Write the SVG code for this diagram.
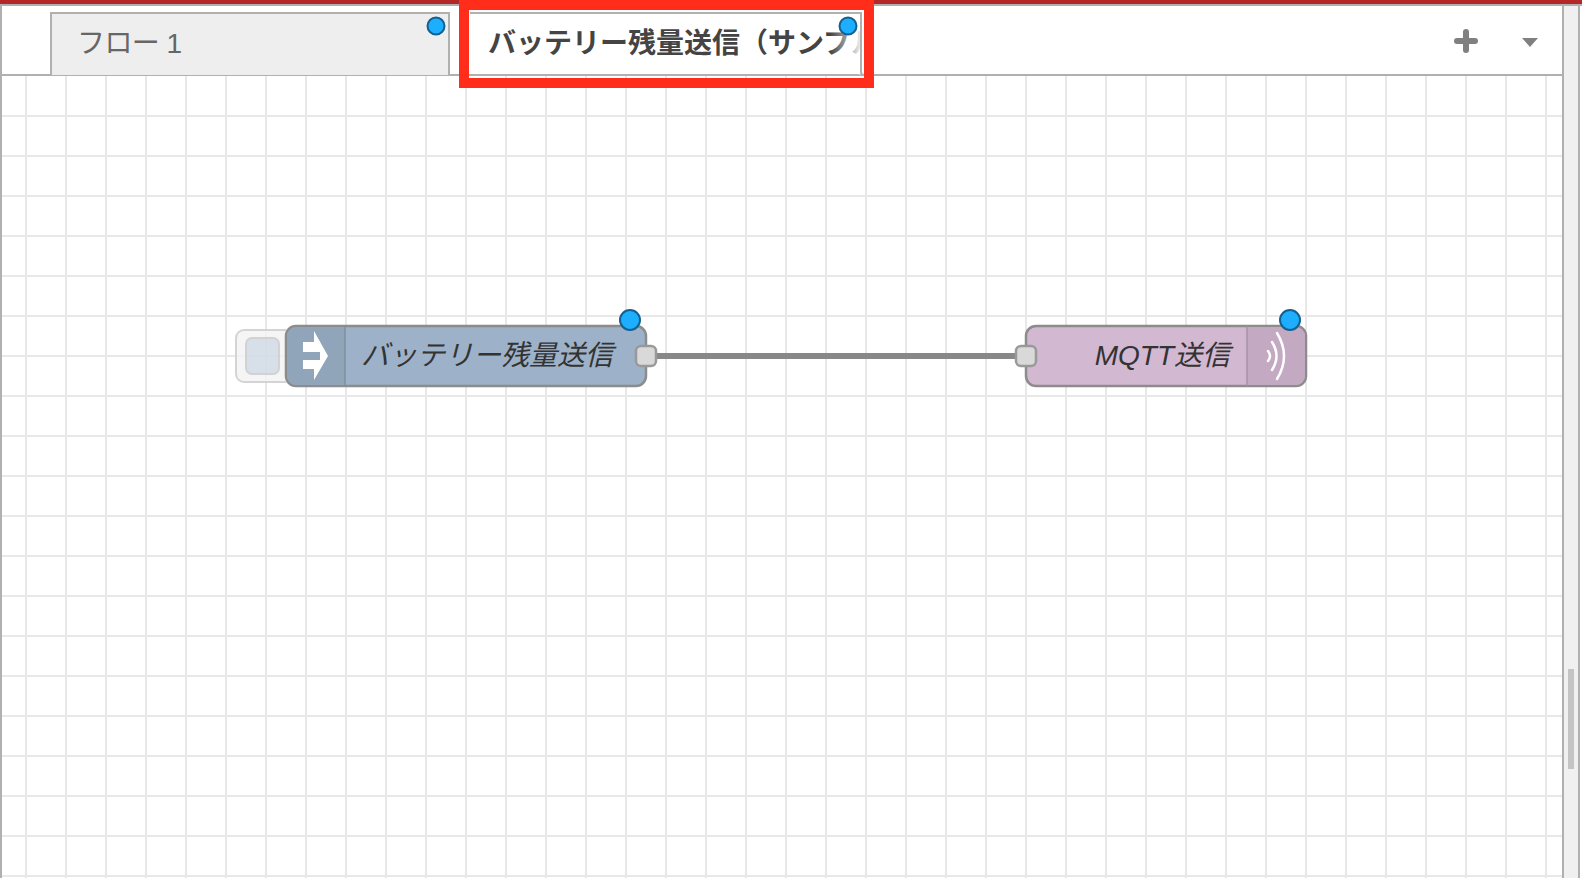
<svg xmlns="http://www.w3.org/2000/svg" width="1582" height="878" viewBox="0 0 1582 878">
<style>
.grid{stroke:#e8e8e8;stroke-width:2;fill:none}
.chrome{fill:#b0b0b0}
.dot{fill:#1eaeff;stroke:#14608f;stroke-width:2}
.port{fill:#d9d9d9;stroke:#999;stroke-width:2.5}
.body{stroke:#8c8c8c;stroke-width:2.5}
.lbl{font-family:"Liberation Sans","Noto Sans CJK JP",sans-serif;font-size:28px;font-style:italic;fill:#333}
.tab{font-family:"Liberation Sans","Noto Sans CJK JP",sans-serif;font-size:28px}
</style>
<defs>
<linearGradient id="fade" x1="830" x2="864" y1="0" y2="0" gradientUnits="userSpaceOnUse">
<stop offset="0" stop-color="#fff" stop-opacity="0"/><stop offset="1" stop-color="#fff"/>
</linearGradient>
<clipPath id="tabclip"><rect x="470" y="14" width="390" height="60"/></clipPath>
<clipPath id="btnclip"><rect x="230" y="325" width="56" height="62"/></clipPath>
</defs>
<rect width="1582" height="878" fill="#fff"/>
<g id="grid" class="grid">
<path d="M26 76V878M66 76V878M106 76V878M146 76V878M186 76V878M226 76V878M266 76V878M306 76V878M346 76V878M386 76V878M426 76V878M466 76V878M506 76V878M546 76V878M586 76V878M626 76V878M666 76V878M706 76V878M746 76V878M786 76V878M826 76V878M866 76V878M906 76V878M946 76V878M986 76V878M1026 76V878M1066 76V878M1106 76V878M1146 76V878M1186 76V878M1226 76V878M1266 76V878M1306 76V878M1346 76V878M1386 76V878M1426 76V878M1466 76V878M1506 76V878M1546 76V878"/>
<path d="M2 116H1562M2 156H1562M2 196H1562M2 236H1562M2 276H1562M2 316H1562M2 356H1562M2 396H1562M2 436H1562M2 476H1562M2 516H1562M2 556H1562M2 596H1562M2 636H1562M2 676H1562M2 716H1562M2 756H1562M2 796H1562M2 836H1562M2 876H1562"/>
</g>
<g id="chrome">
<rect x="0" y="0" width="1582" height="4" fill="#b52626"/>
<rect class="chrome" x="0" y="4" width="1582" height="2"/>
<rect class="chrome" x="0" y="6" width="2" height="872"/>
<rect class="chrome" x="2" y="74" width="1560" height="2"/>
<rect x="1564" y="6" width="14" height="872" fill="#f0f0f0"/>
<rect class="chrome" x="1562" y="6" width="2" height="872"/>
<rect class="chrome" x="1578" y="6" width="2" height="872"/>
<rect x="1568" y="669" width="6" height="100" fill="#c4c4c4"/>
</g>
<g id="tab-1">
<path d="M51 75V13H449V75" fill="#eee" stroke="#b0b0b0" stroke-width="2"/>
<text class="tab" x="77" y="53" fill="#666" textLength="105">フロー 1</text>
<circle class="dot" cx="436" cy="26" r="8.5"/>
</g>
<g id="tab-2">
<path d="M470 13H861V72Q861 75 864 75" fill="#fff" stroke="#b0b0b0" stroke-width="2"/>
<text class="tab" x="488" y="53" fill="#444" font-weight="700" clip-path="url(#tabclip)">バッテリー残量送信（サンプル</text>
<rect x="830" y="14" width="30" height="58" fill="url(#fade)"/>
<circle class="dot" cx="848" cy="26" r="8.5"/>
</g>
<g id="highlight">
<path d="M459 0H874V88H459ZM469 10V78H864V10Z" fill="#ff2d1a" fill-rule="evenodd"/>
</g>
<g id="tab-controls">
<path d="M1466 32V50M1457 41H1475" stroke="#808080" stroke-width="6" stroke-linecap="round" fill="none"/>
<path d="M1522 38H1538L1530 47Z" fill="#808080"/>
</g>
<g id="connectors">
<path d="M656 356H1016" stroke="#888" stroke-width="6" fill="none"/>
</g>
<g id="node-battery">
<g clip-path="url(#btnclip)">
<rect x="236" y="330" width="60" height="52" rx="8" fill="#f3f3f3" fill-opacity=".8" stroke="#d4d4d4" stroke-width="2"/>
</g>
<rect x="246" y="338" width="33" height="36" rx="6" fill="#c3d1e0" fill-opacity=".6" stroke="#d2d2d2" stroke-width="2"/>
<rect class="body" x="286" y="326" width="360" height="60" rx="10" fill="#9db2c8"/>
<path d="M345 327H296A9 9 0 0 0 287 336V376A9 9 0 0 0 296 385H345Z" fill="#90a5b9"/>
<path d="M345 326V386" stroke="#7f8f9f" stroke-width="1.5"/>
<path d="M303 342H314V331L328 356L314 380V369H303V360H320V352H303Z" fill="#fff"/>
<text class="lbl" x="361" y="365">バッテリー残量送信</text>
<rect class="port" x="636" y="346" width="20" height="20" rx="5"/>
<circle class="dot" cx="630" cy="320" r="10"/>
</g>
<g id="node-mqtt">
<rect class="body" x="1026" y="326" width="280" height="60" rx="10" fill="#d3b8d1"/>
<path d="M1247 327H1296A9 9 0 0 1 1305 336V376A9 9 0 0 1 1296 385H1247Z" fill="#c4a9c2"/>
<path d="M1247 326V386" stroke="#a892a6" stroke-width="1.5"/>
<path d="M1268 351Q1272 356 1268 361M1272 342Q1281 356 1272 370M1277 333Q1291 356 1277 379" fill="none" stroke="#fff" stroke-width="2.5" stroke-linecap="round"/>
<text class="lbl" x="1230" y="365" text-anchor="end">MQTT送信</text>
<rect class="port" x="1016" y="346" width="20" height="20" rx="5"/>
<circle class="dot" cx="1290" cy="320" r="10"/>
</g>
</svg>
